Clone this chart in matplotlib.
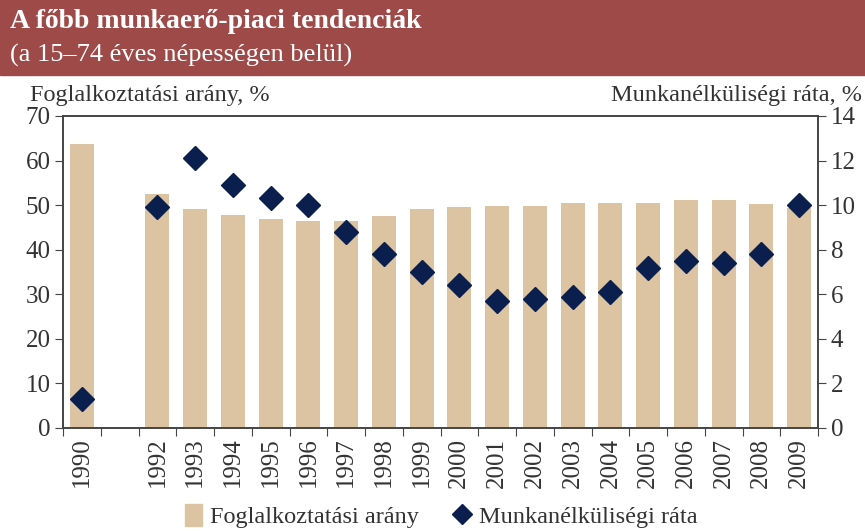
import numpy as np
import matplotlib.pyplot as plt
from matplotlib.patches import Rectangle
from matplotlib.lines import Line2D

plt.rcParams['font.family'] = ['Liberation Serif', 'DejaVu Serif']

# 1991 has no data: the slot stays empty
years = ['1990', '', '1992', '1993', '1994', '1995', '1996', '1997', '1998', '1999',
         '2000', '2001', '2002', '2003', '2004', '2005', '2006', '2007', '2008', '2009']
employment = [63.7, np.nan, 52.5, 49.1, 47.8, 46.8, 46.5, 46.5, 47.5, 49.1,
              49.6, 49.9, 49.9, 50.5, 50.5, 50.5, 51.1, 51.1, 50.2, 49.3]
unemployment = [1.3, np.nan, 9.9, 12.1, 10.9, 10.3, 10.0, 8.8, 7.8, 7.0,
                6.4, 5.7, 5.8, 5.9, 6.1, 7.2, 7.5, 7.4, 7.8, 10.0]

bar_color = '#dcc3a2'
dot_color = '#0b1f4f'
head_color = '#9e4a48'
text_color = '#333333'

fig = plt.figure(figsize=(8.65, 5.31), dpi=100)

# title band
fig.patches.append(Rectangle((0, 1 - 75/531), 1, 75/531, transform=fig.transFigure,
                             color=head_color, zorder=0))
fig.text(0.012, 1 - 22/531, 'A főbb munkaerő-piaci tendenciák', color='white',
         fontsize=20, fontweight='bold', va='center')
fig.text(0.012, 1 - 55/531, '(a 15–74 éves népességen belül)', color='white',
         fontsize=19, va='center')

ax = fig.add_axes([63/865, 1 - 428/531, 755/865, 312/531])
x = np.arange(len(years))
ax.bar(x, employment, width=0.64, color=bar_color, zorder=1)
ax.set_xlim(-0.5, len(years) - 0.5)
ax.set_ylim(0, 70)
ax.set_yticks(range(0, 71, 10))

ax2 = ax.twinx()
ax2.plot(x, unemployment, 'D', color=dot_color, markersize=12, zorder=3)
ax2.set_ylim(0, 14)
ax2.set_yticks(range(0, 15, 2))

# ticks at slot edges, year labels in the middle
ax.set_xticks(np.arange(-0.5, len(years), 1))
ax.set_xticklabels([])
ax.set_xticks(x, minor=True)
ax.set_xticklabels(years, minor=True, rotation=90, fontsize=18, color=text_color)
ax.tick_params(axis='x', which='minor', length=0, pad=7)
ax.tick_params(axis='x', which='major', length=6, direction='out', color='#444444')

for a in (ax, ax2):
    a.tick_params(axis='y', labelsize=18, labelcolor=text_color, length=6,
                  color='#444444', pad=3)
    for s in a.spines.values():
        s.set_color('#444444')
        s.set_linewidth(1.2)

fig.text(30/865, 1 - 95/531, 'Foglalkoztatási arány, %', fontsize=17.5,
         color=text_color, va='center')
fig.text(862/865, 1 - 95/531, 'Munkanélküliségi ráta, %', fontsize=17.5,
         color=text_color, va='center', ha='right')

handles = [Rectangle((0, 0), 1, 1, color=bar_color),
           Line2D([], [], ls='none', marker='D', color=dot_color, markersize=10)]
fig.legend(handles, ['Foglalkoztatási arány', 'Munkanélküliségi ráta'],
           loc='center', bbox_to_anchor=(441/865, 1 - 516/531), ncol=2,
           frameon=False, fontsize=17.5, handlelength=0.7, handleheight=1.0,
           handletextpad=0.35, columnspacing=1.4, labelcolor=text_color)

fig.savefig('out.png', dpi=100)
